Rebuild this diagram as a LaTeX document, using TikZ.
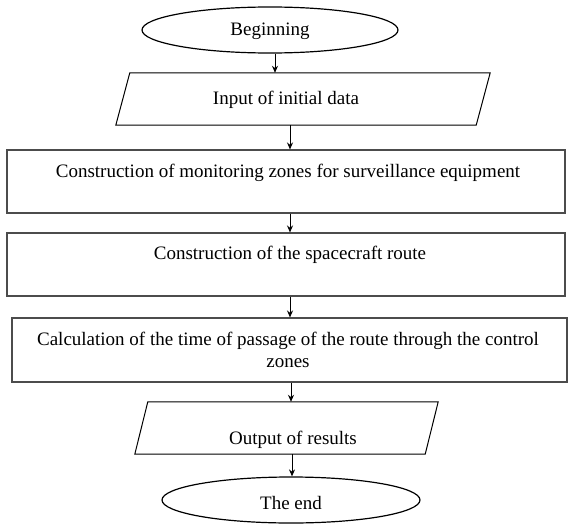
\documentclass[tikz,border=0pt]{standalone}
\usepackage{fontspec}
\setmainfont{Liberation Serif}
\usetikzlibrary{shapes.geometric,arrows.meta}
\begin{document}
\begin{tikzpicture}[x=1pt,y=-1pt,
  term/.style={ellipse,draw,line width=1.2pt,inner sep=0pt},
  shapebox/.style={inner sep=0pt},
  iobox/.style={draw,line width=1pt,line join=miter},
  procbox/.style={draw=black!70,line width=1.1pt,inner sep=0pt},
  lbl/.style={font=\fontsize{19}{22}\selectfont,align=center,inner sep=0pt},
  flow/.style={-{Stealth[length=7pt,width=6pt]},line width=1pt}]
\useasboundingbox (0,0) rectangle (570,527);
% terminals
\node[term,minimum width=256pt,minimum height=46pt] (begin) at (270,30) {};
\node[lbl] (tbegin) at (270,31) {Beginning};
% input parallelogram
\node[shapebox,minimum width=360pt,minimum height=52pt] (in) at (303,99) {};
\draw[iobox] ([xshift=-7pt]in.south west) -- ([xshift=-7pt]in.south east)
  -- ([xshift=7pt]in.north east) -- ([xshift=7pt]in.north west) -- cycle;
\node[lbl] (tin) at (286,100) {Input of initial data};
% process boxes
\node[procbox,minimum width=558pt,minimum height=63pt] (b1) at (286,181.5) {};
\node[lbl] (tb1) at (288,173) {Construction of monitoring zones for surveillance equipment};
\node[procbox,minimum width=558pt,minimum height=63pt] (b2) at (286,264.5) {};
\node[lbl] (tb2) at (290,255) {Construction of the spacecraft route};
\node[procbox,minimum width=555pt,minimum height=64pt] (b3) at (289.5,350) {};
\node[lbl] (tb3) at (288,350) {Calculation of the time of passage of the route through the control\\zones};
% output parallelogram
\node[shapebox,minimum width=290pt,minimum height=52pt] (out) at (286.5,428) {};
\draw[iobox] ([xshift=-6.5pt]out.south west) -- ([xshift=-6.5pt]out.south east)
  -- ([xshift=6.5pt]out.north east) -- ([xshift=6.5pt]out.north west) -- cycle;
\node[lbl] (tout) at (293,440) {Output of results};
\node[term,minimum width=258pt,minimum height=46pt] (end) at (291,500) {};
\node[lbl] (tend) at (291,503) {The end};
% connectors
\draw[flow] (begin.south -| 275,0) -- (in.north -| 275,0);
\draw[flow] (in.south -| 290,0) -- (b1.north -| 290,0);
\draw[flow] (b1.south -| 290,0) -- (b2.north -| 290,0);
\draw[flow] (b2.south -| 290,0) -- (b3.north -| 290,0);
\draw[flow] (b3.south -| 291,0) -- (out.north -| 291,0);
\draw[flow] (out.south -| 292,0) -- (end.north -| 292,0);
\end{tikzpicture}
\end{document}
